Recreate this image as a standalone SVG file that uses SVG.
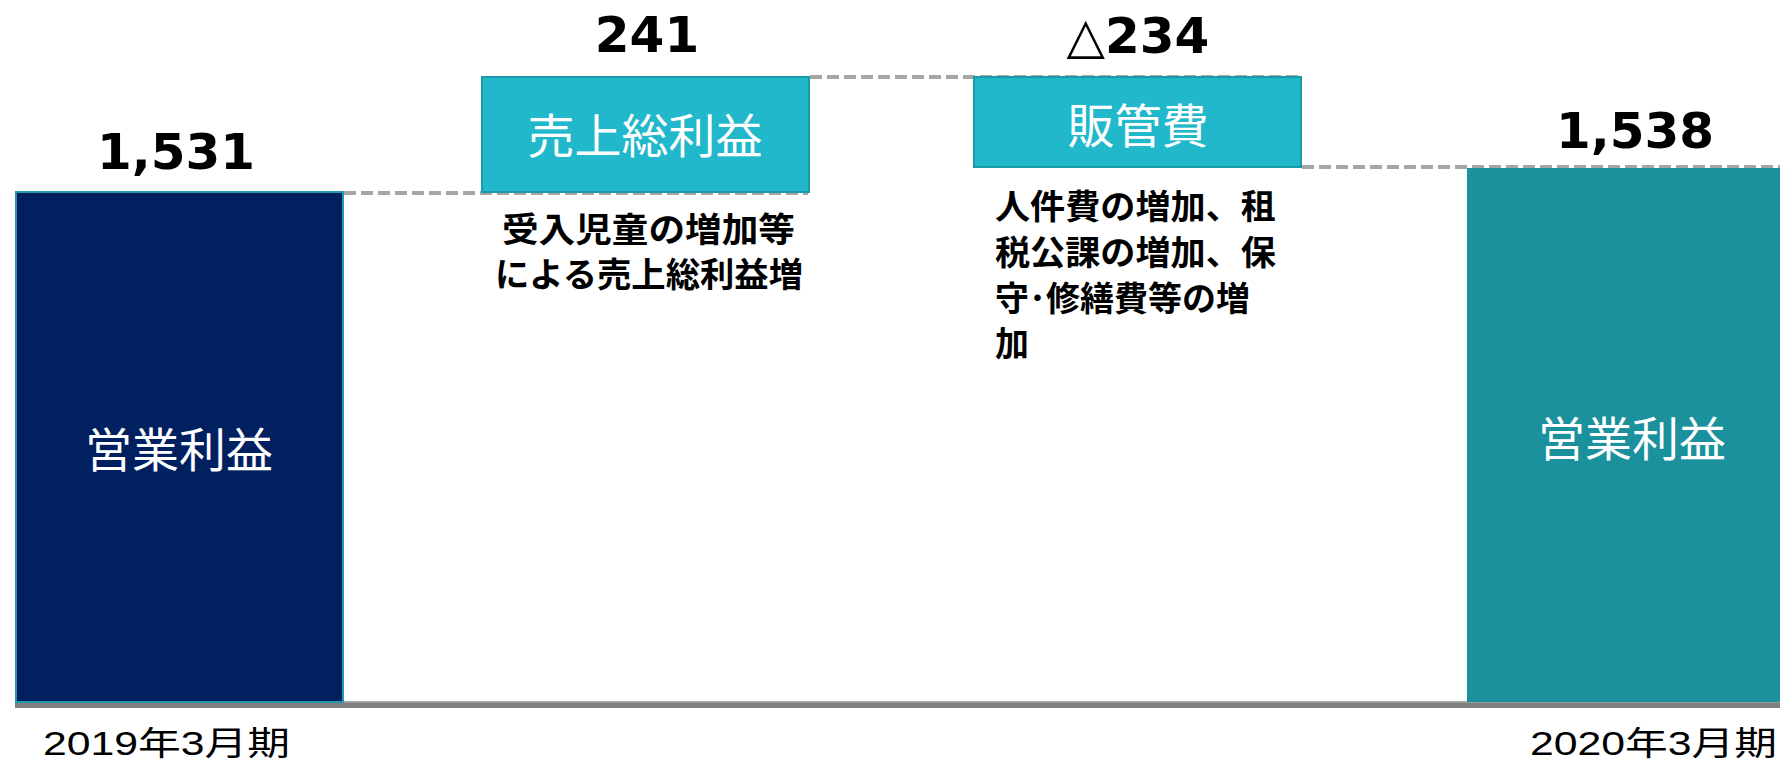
<svg xmlns="http://www.w3.org/2000/svg" width="1780" height="766" viewBox="0 0 1780 766">
<style>
.val{font-family:"DejaVu Sans","Noto Sans CJK JP",sans-serif;font-weight:bold;font-size:50px;fill:#000;text-anchor:middle}
.lbl{font-family:"Noto Sans CJK JP",sans-serif;font-size:47px;fill:#fff;text-anchor:middle}
.desc{font-family:"Noto Sans CJK JP",sans-serif;font-weight:bold;font-size:34px;fill:#000}
.yr{font-family:"Liberation Sans","Noto Sans CJK JP",sans-serif;font-size:33px;fill:#000}
.dash{stroke:#A6A6A6;stroke-width:4;stroke-dasharray:12 5;fill:none}
.box{fill:#20B8CA;stroke:#1A9AA8;stroke-width:2}
</style>
<rect width="1780" height="766" fill="#fff"/>
<g id="connectors">
<line class="dash" x1="344" y1="193" x2="808" y2="193"/>
<line class="dash" x1="810" y1="77" x2="1300" y2="77"/>
<line class="dash" x1="1302" y1="167" x2="1780" y2="167"/>
</g>
<g id="axis">
<rect x="15" y="702" width="1765" height="6" fill="#808080"/>
<rect x="15" y="701" width="1765" height="1.5" fill="#B0B0B0"/>
</g>
<g id="bar2019">
<rect x="16" y="192" width="327" height="510" fill="#002060" stroke="#2597A6" stroke-width="2"/>
<text class="lbl" x="179" y="467">営業利益</text>
<text class="val" x="176" y="169" font-size="52">1,531</text>
<text class="yr" x="43" y="755" textLength="247" lengthAdjust="spacingAndGlyphs">2019年3月期</text>
</g>
<g id="gross">
<rect class="box" x="482" y="77" width="327" height="115"/>
<text class="lbl" x="645" y="153" font-size="48">売上総利益</text>
<text class="val" x="647" y="52">241</text>
<text class="desc" x="502" y="242" textLength="293" lengthAdjust="spacingAndGlyphs">受入児童の増加等</text>
<text class="desc" x="495" y="287" textLength="308" lengthAdjust="spacingAndGlyphs">による売上総利益増</text>
</g>
<g id="sga">
<rect class="box" x="974" y="77" width="327" height="90"/>
<text class="lbl" x="1138" y="143">販管費</text>
<text class="val" x="1138" y="53">△234</text>
<text class="desc" x="995" y="219" textLength="281" lengthAdjust="spacingAndGlyphs">人件費の増加、租</text>
<text class="desc" x="995" y="265" textLength="281" lengthAdjust="spacingAndGlyphs">税公課の増加、保</text>
<text class="desc" x="995" y="311">守･修繕費等の増</text>
<text class="desc" x="995" y="356">加</text>
</g>
<g id="bar2020">
<rect x="1467" y="168" width="320" height="534" fill="#1A919D"/>
<text class="lbl" x="1632" y="456">営業利益</text>
<text class="val" x="1635" y="148" font-size="52">1,538</text>
<text class="yr" x="1530" y="755" textLength="247" lengthAdjust="spacingAndGlyphs">2020年3月期</text>
</g>
</svg>
